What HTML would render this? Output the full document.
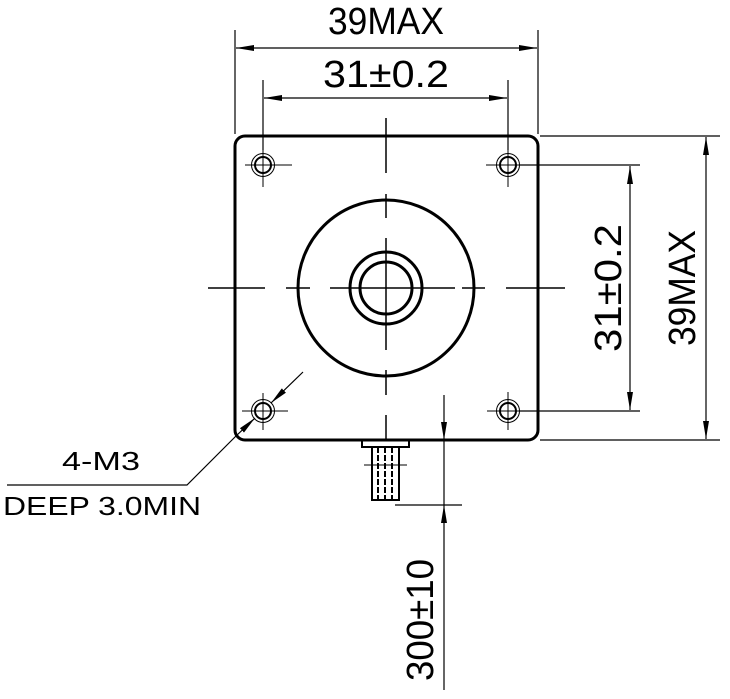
<!DOCTYPE html>
<html><head><style>body{margin:0;background:#fff}svg{display:block}</style></head><body>
<svg width="730" height="699" viewBox="0 0 730 699" xmlns="http://www.w3.org/2000/svg" font-family="Liberation Sans, DejaVu Sans, sans-serif">
<defs>
<marker id="a" viewBox="0 0 18 6" refX="18" refY="3" markerWidth="18" markerHeight="6" markerUnits="userSpaceOnUse" orient="auto-start-reverse"><path d="M0,0 L18,3 L0,6 z" fill="#000"/></marker>
</defs>
<g fill="none" stroke="#000">
<rect x="235" y="136" width="303" height="304" rx="10" stroke-width="3"/>
<circle cx="386" cy="288" r="88" stroke-width="3"/>
<circle cx="386" cy="288" r="36" stroke-width="3"/>
<circle cx="386" cy="288" r="26" stroke-width="3"/>
<g stroke-width="1.5">
<path d="M208,288H265M286,288H310M330,288H455M462,288H485M506,288H565"/>
<path d="M386,118V173M386,194V218M386,238V350M386,370V395M386,415V440"/>
</g>
<g stroke-width="2">
<circle cx="263" cy="165" r="8"/><circle cx="508" cy="165" r="8"/><circle cx="263" cy="411" r="8"/><circle cx="508" cy="411" r="8"/>
</g>
<g stroke-width="1">
<circle cx="263" cy="165" r="11.5"/><circle cx="508" cy="165" r="11.5"/><circle cx="263" cy="411" r="11.5"/><circle cx="508" cy="411" r="11.5"/>
<path d="M245,165H292M263,148V187M486,165H530M508,130V187M242,411H288M263,393V430M487,411H530M508,392V430"/>
</g>
<g stroke-width="1.2">
<path d="M235,30V134M538,30V134M263,80V150M508,80V150"/>
<path d="M236,48H537" marker-start="url(#a)" marker-end="url(#a)"/>
<path d="M264,98H507" marker-start="url(#a)" marker-end="url(#a)"/>
<path d="M540,136H720M540,440H720M520,165H640M520,411H640"/>
<path d="M630,166V410" marker-start="url(#a)" marker-end="url(#a)"/>
<path d="M706,137V439" marker-start="url(#a)" marker-end="url(#a)"/>
<path d="M444,395V440" marker-end="url(#a)"/>
<path d="M444,690V505" marker-end="url(#a)"/>
<path d="M444,440V505"/>
<path d="M395,505H462"/>
<path d="M7,485H187L236,436"/>
<path d="M236,436L255,418" marker-end="url(#a)"/>
<path d="M303,372L271,403" marker-end="url(#a)"/>
</g>
<path d="M362,440V447H409V440" stroke-width="2"/>
<rect x="372" y="447" width="27" height="53" stroke-width="2"/>
<path d="M378,447V500M385,447V500M392,447V500" stroke-width="2" stroke-dasharray="6,2"/>
<path d="M364,465H407" stroke-width="1"/>
</g>
<g font-size="38" fill="#000">
<text x="386" y="34" text-anchor="middle" textLength="116" lengthAdjust="spacingAndGlyphs">39MAX</text>
<text x="386" y="87" text-anchor="middle" textLength="126" lengthAdjust="spacingAndGlyphs">31±0.2</text>
<text transform="translate(621,288) rotate(-90)" text-anchor="middle" textLength="128" lengthAdjust="spacingAndGlyphs">31±0.2</text>
<text transform="translate(695,288) rotate(-90)" text-anchor="middle" textLength="116" lengthAdjust="spacingAndGlyphs">39MAX</text>
<text transform="translate(433,620) rotate(-90)" text-anchor="middle" textLength="122" lengthAdjust="spacingAndGlyphs">300±10</text>
</g>
<g font-size="26" fill="#000">
<text x="62" y="470" textLength="78" lengthAdjust="spacingAndGlyphs">4-M3</text>
<text x="3" y="515" textLength="198" lengthAdjust="spacingAndGlyphs">DEEP 3.0MIN</text>
</g>
</svg>
</body></html>
